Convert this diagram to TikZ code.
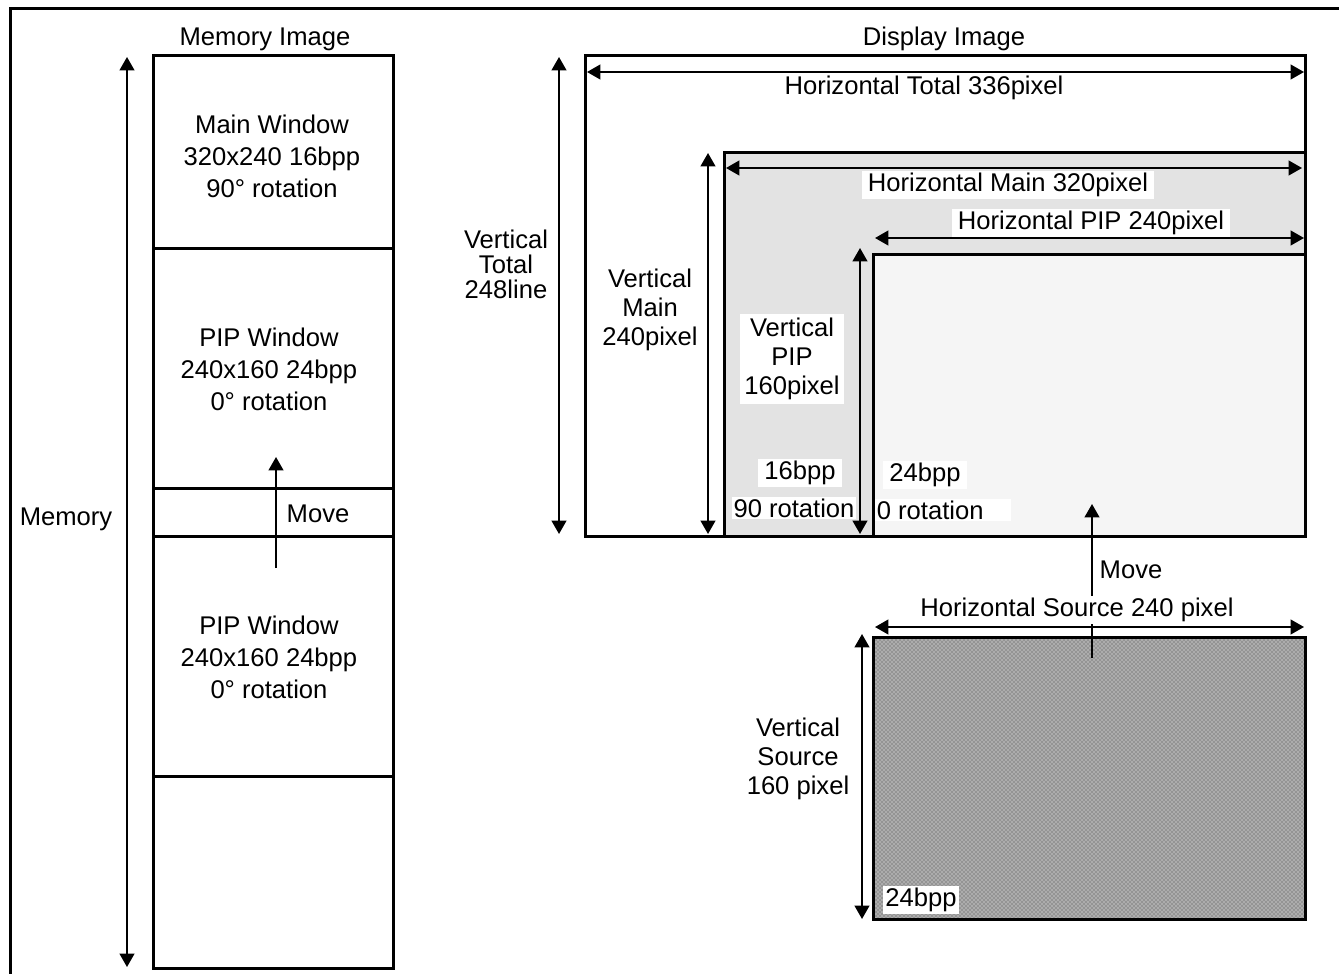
\documentclass[tikz,border=0pt]{standalone}
\usepackage{fontspec}
\setmainfont{Liberation Sans}
\usetikzlibrary{arrows.meta,patterns}
\definecolor{maingray}{HTML}{E3E3E3}
\definecolor{pipgray}{HTML}{F5F5F5}
\begin{document}
\begin{tikzpicture}[x=0.75pt,y=-0.75pt,
  boxline/.style={line width=2.25pt},
  dimarrow/.style={line width=1.5pt,{Triangle[width=11pt,length=10pt]}-{Triangle[width=11pt,length=10pt]}},
  movearrow/.style={line width=1.5pt,-{Triangle[width=11pt,length=10pt]}},
  lbl/.style={font=\fontsize{19.2}{24}\selectfont, inner sep=1.5pt, align=center, yshift=-1.5pt},
  wlbl/.style={lbl, fill=white},
  vlbl/.style={lbl, font=\fontsize{19.2}{22}\selectfont},
]
\useasboundingbox (0,0) rectangle (1339,974);
% frame
\coordinate (fr-bl) at (10,974);
\coordinate (fr-tl) at (10,9);
\coordinate (fr-tr) at (1339,9);
\draw[boxline] (fr-bl) -- (fr-tl) -- (fr-tr);

% ---------- memory image ----------
\coordinate (mem-tl) at (153,56);
\coordinate (mem-br) at (393,968);
\draw[boxline] (mem-tl) rectangle (mem-br);
\foreach \yy/\nm in {248/a,488/b,536/c,776/d}{
  \coordinate (div-\nm-l) at (153,\yy);
  \coordinate (div-\nm-r) at (393,\yy);
  \draw[boxline] (div-\nm-l) -- (div-\nm-r);
}
\node[lbl] (memimg) at (265,37) {Memory Image};
\node[lbl] (mainwin) at (272,154) {Main Window\\320x240 16bpp\\90° rotation};
\node[lbl] (pipwin1) at (269,367) {PIP Window\\240x160 24bpp\\0° rotation};
\node[lbl] (pipwin2) at (269,655) {PIP Window\\240x160 24bpp\\0° rotation};
\node[lbl] (memlbl) at (66,517) {Memory};
\node[lbl] (memmove) at (318,512) {Move};
\coordinate (memarr-t) at (127,57);
\coordinate (memarr-b) at (127,967);
\draw[dimarrow] (memarr-b) -- (memarr-t);
\coordinate (mmove-s) at (276,568);
\coordinate (mmove-e) at (276,457);
\draw[movearrow] (mmove-s) -- (mmove-e);

% ---------- display image ----------
\coordinate (disp-tl) at (585,56);
\coordinate (disp-br) at (1305,536);
\coordinate (main-tl) at (724,152);
\coordinate (pip-tl) at (873,254);
\draw[boxline, fill=white] (disp-tl) rectangle (disp-br);
\draw[boxline, fill=maingray] (main-tl) rectangle (disp-br);
\draw[boxline, fill=pipgray] (pip-tl) rectangle (disp-br);
\node[lbl] (dispimg) at (944,37) {Display Image};

% source
\coordinate (src-tl) at (873,637);
\coordinate (src-br) at (1305,919);
\fill[black!42] (src-tl) rectangle (src-br);
\fill[pattern=crosshatch dots, pattern color=white] (src-tl) rectangle (src-br);
\draw[boxline] (src-tl) rectangle (src-br);

% dimension arrows
\coordinate (ht-l) at (587,72);
\coordinate (ht-r) at (1304,72);
\draw[dimarrow] (ht-l) -- (ht-r);
\coordinate (vt-t) at (559,57);
\coordinate (vt-b) at (559,534);
\draw[dimarrow] (vt-t) -- (vt-b);
\coordinate (hm-l) at (726,168);
\coordinate (hm-r) at (1302,168);
\draw[dimarrow] (hm-l) -- (hm-r);
\coordinate (vm-t) at (708,153);
\coordinate (vm-b) at (708,534);
\draw[dimarrow] (vm-t) -- (vm-b);
\coordinate (hp-l) at (875,238);
\coordinate (hp-r) at (1304,238);
\draw[dimarrow] (hp-l) -- (hp-r);
\coordinate (vp-t) at (860,248);
\coordinate (vp-b) at (860,534);
\draw[dimarrow] (vp-t) -- (vp-b);
\coordinate (hs-l) at (875,627);
\coordinate (hs-r) at (1304,627);
\draw[dimarrow] (hs-l) -- (hs-r);
\coordinate (vs-t) at (862,634);
\coordinate (vs-b) at (862,919);
\draw[dimarrow] (vs-t) -- (vs-b);
\coordinate (dmove-s) at (1092,658);
\coordinate (dmove-e) at (1092,504);
\draw[movearrow] (dmove-s) -- (dmove-e);

% labels
\node[lbl] (htlbl) at (924,86) {Horizontal Total 336pixel};
\node[lbl, font=\fontsize{19.2}{18.75}\selectfont] (vtlbl) at (506,262) {Vertical\\Total\\248line};
\node[vlbl] (vmlbl) at (650,308) {Vertical\\Main\\240pixel};
\node[wlbl] (hmlbl) at (1008,183) {\,Horizontal Main 320pixel\,};
\node[wlbl] (hplbl) at (1091,221) {\,Horizontal PIP 240pixel\,};
\node[vlbl, fill=white, inner sep=3pt] (vplbl) at (792,357) {Vertical\\PIP\\160pixel};
\node[wlbl] (bpp16) at (800,471) {\,16bpp\,};
\node[wlbl] (rot90) at (794,506) {90 rotation};
\node[wlbl] (bpp24) at (925,473) {\,24bpp\,};
\node[wlbl] (rot0) at (943,508) {0 rotation\quad};
\node[lbl] (dmovelbl) at (1131,568) {Move};
\node[wlbl] (hslbl) at (1077,608) {Horizontal Source 240 pixel};
\node[vlbl] (vslbl) at (798,757) {Vertical\\Source\\160 pixel};
\node[wlbl] (srcbpp) at (921,898) {24bpp};
\end{tikzpicture}
\end{document}
